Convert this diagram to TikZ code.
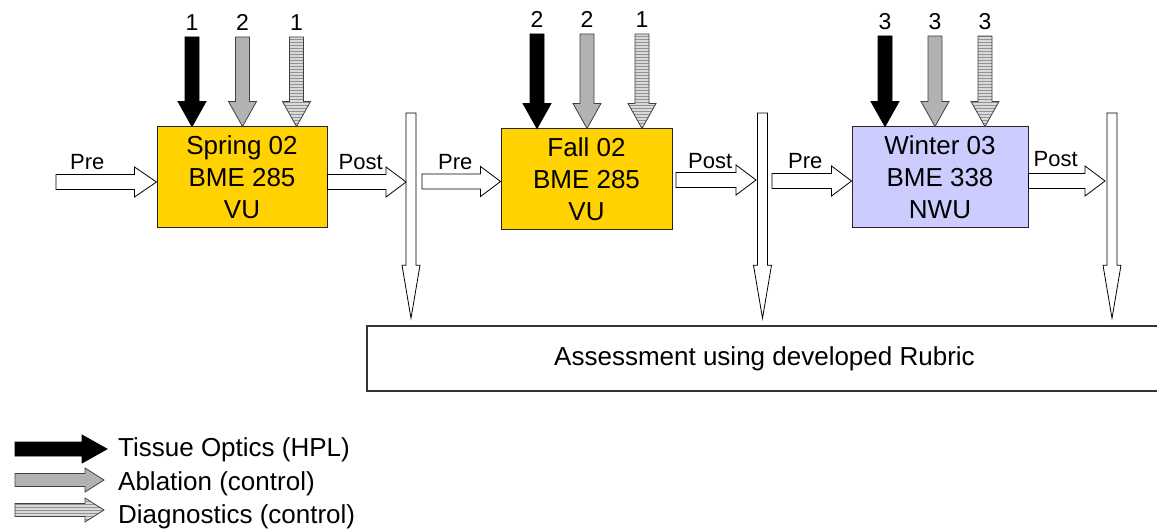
\documentclass[tikz,border=0pt]{standalone}
\usepackage{fontspec}
\setmainfont{Liberation Sans}
\usetikzlibrary{calc}
\usetikzlibrary{patterns}
\usetikzlibrary{positioning}

\definecolor{vuyellow}{RGB}{255,210,0}
\definecolor{nwulilac}{RGB}{204,204,255}

% block arrow: [style]{from}{to}{shaft half width}{head half width}{head length}
\newcommand{\fatarrow}[6][]{%
  \coordinate (fa-h) at ($(#3)!#6!(#2)$);
  \filldraw[#1] ($(#2)!#4!90:(#3)$) -- ($(fa-h)!#4!90:(#3)$) -- ($(fa-h)!#5!90:(#3)$) -- (#3)
    -- ($(fa-h)!#5!-90:(#3)$) -- ($(fa-h)!#4!-90:(#3)$) -- ($(#2)!#4!-90:(#3)$) -- cycle;
}

\tikzset{
  course/.style={draw=black!85, line width=1pt, minimum height=101pt, align=center,
    font=\fontsize{26}{32}\selectfont},
  hpl/.style={fill=black, draw=black, line width=0.8pt},
  ablation/.style={fill=gray!60, draw=black!75, line width=0.8pt},
  diagnostics/.style={draw=black!75, line width=0.8pt, preaction={fill=gray!30},
    pattern=horizontal lines, pattern color=gray!85},
  hollow/.style={fill=white, draw=black, line width=0.8pt},
  count/.style={font=\fontsize{23}{23}\selectfont, inner sep=0pt},
  prepost/.style={font=\fontsize{22}{22}\selectfont, inner sep=0pt},
  keytext/.style={font=\fontsize{26}{26}\selectfont, inner sep=0pt, anchor=west},
}

\begin{document}
\begin{tikzpicture}[x=1pt,y=-1pt]
  \useasboundingbox (0,0) rectangle (1157,529);

  % courses
  \node[course, fill=vuyellow, minimum width=170pt] (spring) at (242,177.5) {Spring 02\\BME 285\\VU};
  \node[course, fill=vuyellow, minimum width=171pt] (fall) at (586.5,179.5) {Fall 02\\BME 285\\VU};
  \node[course, fill=nwulilac, minimum width=176pt] (winter) at (940,177.5) {Winter 03\\BME 338\\NWU};

  % assessment
  \node[draw=black!80, line width=1.5pt, minimum width=795pt, minimum height=65pt,
    font=\fontsize{26}{30}\selectfont] (rubric) at (764.5,358.5) {Assessment using developed Rubric};

  % modules going into each course
  \foreach \x/\kind/\n [count=\i] in {192/hpl/1, 242.5/ablation/2, 296.5/diagnostics/1}{
    \coordinate (sp-in\i) at (\x,37);
    \fatarrow[\kind]{sp-in\i}{spring.north -| sp-in\i}{7pt}{14pt}{25pt}
    \node[count, above=6pt of sp-in\i] {\n};
  }
  \foreach \x/\kind/\n [count=\i] in {537/hpl/2, 587/ablation/2, 642/diagnostics/1}{
    \coordinate (fa-in\i) at (\x,34);
    \fatarrow[\kind]{fa-in\i}{fall.north -| fa-in\i}{7pt}{14pt}{25pt}
    \node[count, above=6pt of fa-in\i] {\n};
  }
  \foreach \x/\kind/\n [count=\i] in {885/hpl/3, 935/ablation/3, 985/diagnostics/3}{
    \coordinate (wi-in\i) at (\x,36);
    \fatarrow[\kind]{wi-in\i}{winter.north -| wi-in\i}{7pt}{14pt}{25pt}
    \node[count, above=6pt of wi-in\i] {\n};
  }

  % results dropping to the rubric
  \coordinate (drop1) at (411,113);
  \coordinate (drop2) at (762.5,113);
  \coordinate (drop3) at (1112,113);
  \foreach \d in {1,2,3}{
    \coordinate (drop\d e) at ($(drop\d |- rubric.north)+(0,-7)$);
    \fatarrow[hollow]{drop\d}{drop\d e}{5pt}{9pt}{53pt}
  }

  % pre / post tests
  \coordinate (pre1) at (56,182);
  \coordinate (post1) at (406,182);
  \coordinate (pre2) at (422,181.5);
  \coordinate (post2s) at (676,180);
  \coordinate (post2) at (756,180);
  \coordinate (pre3) at (772,181);
  \coordinate (post3) at (1105,181);
  \fatarrow[hollow]{pre1}{spring.west |- pre1}{7.5pt}{15pt}{22pt}
  \fatarrow[hollow]{spring.east |- post1}{post1}{7.5pt}{15pt}{20pt}
  \fatarrow[hollow]{pre2}{fall.west |- pre2}{7.5pt}{15pt}{20pt}
  \fatarrow[hollow]{post2s}{post2}{7.5pt}{15pt}{20pt}
  \fatarrow[hollow]{pre3}{winter.west |- pre3}{7.5pt}{15pt}{20pt}
  \fatarrow[hollow]{winter.east |- post3}{post3}{7.5pt}{15pt}{20pt}

  \node[prepost, above right=12pt and 14pt of pre1] {Pre};
  \node[prepost, above right=12pt and 11pt of spring.east |- post1] {Post};
  \node[prepost, above right=12pt and 16pt of pre2] {Pre};
  \node[prepost, above right=11pt and 12pt of post2s] {Post};
  \node[prepost, above right=12pt and 16pt of pre3] {Pre};
  \node[prepost, above right=14pt and 5pt of winter.east |- post3] {Post};

  % key
  \coordinate (key1) at (15,449);
  \coordinate (key1e) at (107,449);
  \coordinate (key2) at (15,480);
  \coordinate (key2e) at (104,480);
  \coordinate (key3) at (15,510);
  \coordinate (key3e) at (104,510);
  \fatarrow[hpl]{key1}{key1e}{7pt}{14pt}{25pt}
  \fatarrow[ablation]{key2}{key2e}{6.5pt}{12pt}{19pt}
  \fatarrow[diagnostics]{key3}{key3e}{6.5pt}{12pt}{19pt}
  \node[keytext, right=11pt of key1e, yshift=-1pt] {Tissue Optics (HPL)};
  \node[keytext, right=14pt of key2e, yshift=-4pt] {Ablation (control)};
  \node[keytext, right=14pt of key3e, yshift=-7pt] {Diagnostics (control)};
\end{tikzpicture}
\end{document}
